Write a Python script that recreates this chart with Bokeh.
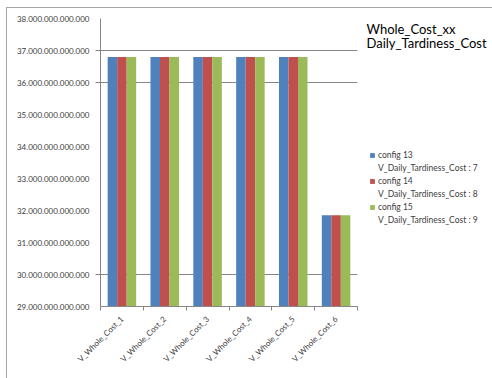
import math
from bokeh.plotting import figure
from bokeh.layouts import row
from bokeh.models import (ColumnDataSource, FixedTicker, Range1d, Label,
                          Legend, LegendItem)
from bokeh.transform import dodge
from bokeh.embed import file_html
from bokeh.resources import INLINE

# --- data -------------------------------------------------------------
categories = ["V_Whole_Cost_1", "V_Whole_Cost_2", "V_Whole_Cost_3",
              "V_Whole_Cost_4", "V_Whole_Cost_5", "V_Whole_Cost_6"]
config_13 = [36.8e12, 36.8e12, 36.8e12, 36.8e12, 36.8e12, 31.85e12]
config_14 = [36.8e12, 36.8e12, 36.8e12, 36.8e12, 36.8e12, 31.85e12]
config_15 = [36.8e12, 36.8e12, 36.8e12, 36.8e12, 36.8e12, 31.85e12]
series_names = ["config 13", "config 14", "config 15"]
series_params = ["V_Daily_Tardiness_Cost : 7",
                 "V_Daily_Tardiness_Cost : 8",
                 "V_Daily_Tardiness_Cost : 9"]
y_ticks = [29e12, 30e12, 31e12, 32e12, 33e12, 34e12, 35e12, 36e12, 37e12, 38e12]
grid_ticks = [30e12, 36e12, 37e12]
title_lines = ["Whole_Cost_xx", "Daily_Tardiness_Cost"]

colors = ["#4F81BD", "#C0504D", "#9BBB59"]
FONT = "Lato"
H = 370

xs = list(range(1, len(categories) + 1))
src = ColumnDataSource(dict(x=xs, c13=config_13, c14=config_14, c15=config_15))

# --- bar chart --------------------------------------------------------
p = figure(width=351, height=H, output_backend="svg", toolbar_location=None,
           x_range=Range1d(0.5, len(categories) + 0.5),
           y_range=Range1d(y_ticks[0], y_ticks[-1]),
           min_border_left=93, min_border_right=1,
           min_border_top=10, min_border_bottom=72)
p.outline_line_color = None
p.background_fill_color = "white"
p.border_fill_color = "white"

bw = 0.222
for off, col, c in zip([-bw, 0, bw], ["c13", "c14", "c15"], colors):
    p.vbar(x=dodge("x", off, range=p.x_range), top=col, bottom=y_ticks[0],
           width=bw, source=src, fill_color=c, line_color=None)

# y axis
ya = p.yaxis[0]
ya.ticker = FixedTicker(ticks=y_ticks, minor_ticks=grid_ticks)
ya.major_label_overrides = {v: f"{v:,.0f}".replace(",", ".") for v in y_ticks}
ya.major_tick_in = 0
ya.major_tick_out = 0
ya.minor_tick_in = 0
ya.minor_tick_out = 5
ya.minor_tick_line_color = "#868686"
ya.axis_line_color = "#868686"
ya.major_label_text_font = FONT
ya.major_label_text_font_size = "8px"
ya.major_label_text_color = "#404040"
ya.major_label_standoff = 6

# x axis: ticks on category boundaries, labels on centres
xa = p.xaxis[0]
xa.ticker = FixedTicker(ticks=xs, minor_ticks=[x + 0.5 for x in range(0, len(xs) + 1)])
xa.major_label_overrides = {x: c for x, c in zip(xs, categories)}
xa.major_tick_in = 0
xa.major_tick_out = 0
xa.minor_tick_in = 0
xa.minor_tick_out = 4
xa.minor_tick_line_color = "#868686"
xa.axis_line_color = "#868686"
xa.major_label_orientation = math.pi / 4
xa.major_label_text_font = FONT
xa.major_label_text_font_size = "8px"
xa.major_label_text_color = "#404040"
xa.major_label_standoff = 7

p.xgrid.visible = False
p.ygrid.ticker = FixedTicker(ticks=grid_ticks)
p.ygrid.grid_line_color = "#868686"
p.ygrid.grid_line_width = 1

# --- title and legend panel ------------------------------------------
side = figure(width=134, height=H, output_backend="svg", toolbar_location=None,
              x_range=Range1d(0, 134), y_range=Range1d(0, H),
              min_border=0, x_axis_type=None, y_axis_type=None)
side.outline_line_color = None
side.grid.visible = False
side.background_fill_color = "white"
side.border_fill_color = "white"

for i, t in enumerate(title_lines):
    side.add_layout(Label(x=8, y=356 - i * 18, text=t, text_font=FONT,
                          text_font_size="13px", text_color="#000000",
                          text_baseline="middle"))

# legend swatches: off-screen bars so the legend has a glyph to draw;
# the parameter line of each entry gets a transparent swatch
items = []
for name, param, c in zip(series_names, series_params, colors):
    sw = side.vbar(x=[-50], top=[-50], bottom=[-60], width=1,
                   fill_color=c, line_color=None)
    blank = side.vbar(x=[-50], top=[-50], bottom=[-60], width=1,
                      fill_alpha=0, line_color=None)
    items.append(LegendItem(label=name, renderers=[sw]))
    items.append(LegendItem(label=param, renderers=[blank]))

legend = Legend(items=items, location=(11, 81), orientation="vertical",
                label_text_font=FONT, label_text_font_size="8.5px",
                label_text_color="#404040", label_height=10,
                glyph_width=6, glyph_height=6,
                label_standoff=3, spacing=3, padding=0, margin=0,
                border_line_color=None, background_fill_alpha=0)
side.add_layout(legend, "center")

layout = row(p, side, spacing=0)
layout.styles = {"margin-left": "6px", "margin-top": "7px",
                 "border-left": "1px solid #a6a6a6", "border-top": "1px solid #a6a6a6",
                 "border-bottom": "1px solid #a6a6a6"}

open("out.html", "w").write(file_html(layout, INLINE))
